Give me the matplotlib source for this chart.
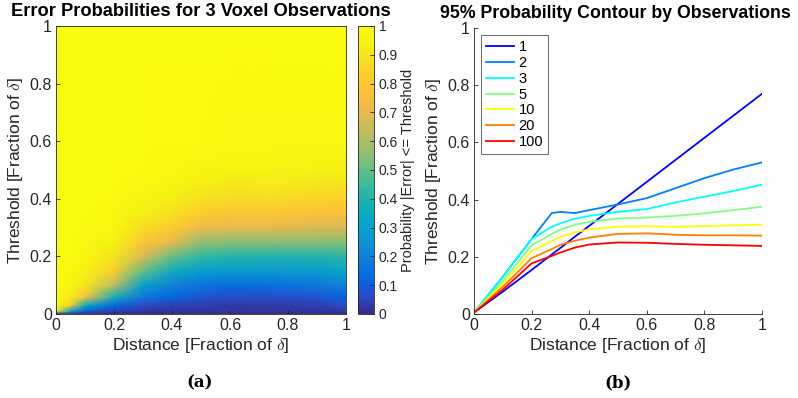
import numpy as np
import matplotlib
matplotlib.use("Agg")
import matplotlib.pyplot as plt
from matplotlib.colors import LinearSegmentedColormap

plt.rcParams['font.family'] = ['Liberation Sans', 'DejaVu Sans']
plt.rcParams['mathtext.fontset'] = 'cm'

# ---- panel (a): probability |error| <= threshold, 3 observations ----
dist_grid = [0, 0.05, 0.1, 0.2, 0.3, 0.4, 0.5, 0.6, 0.75, 0.9, 1.0]
thr_grid = [0, 0.01, 0.03, 0.06, 0.1, 0.15, 0.2, 0.25, 0.3, 0.35, 0.4, 0.45, 0.5, 0.6, 1.0]
prob_grid = [
    [0.00, 0.00, 0.00, 0.00, 0.00, 0.00, 0.00, 0.00, 0.00, 0.00, 0.00],
    [0.92, 0.30, 0.10, 0.04, 0.02, 0.02, 0.02, 0.02, 0.02, 0.02, 0.03],
    [1.00, 0.80, 0.35, 0.12, 0.06, 0.04, 0.04, 0.03, 0.03, 0.04, 0.06],
    [1.00, 0.92, 0.78, 0.38, 0.17, 0.12, 0.08, 0.07, 0.07, 0.08, 0.12],
    [1.00, 0.96, 0.90, 0.62, 0.30, 0.20, 0.16, 0.14, 0.15, 0.17, 0.20],
    [1.00, 0.98, 0.95, 0.82, 0.50, 0.36, 0.29, 0.27, 0.27, 0.28, 0.32],
    [1.00, 0.99, 0.97, 0.90, 0.68, 0.50, 0.43, 0.41, 0.40, 0.40, 0.42],
    [1.00, 1.00, 0.98, 0.94, 0.80, 0.70, 0.57, 0.55, 0.55, 0.55, 0.55],
    [1.00, 1.00, 0.99, 0.97, 0.88, 0.82, 0.72, 0.70, 0.70, 0.68, 0.67],
    [1.00, 1.00, 1.00, 0.98, 0.93, 0.89, 0.82, 0.80, 0.80, 0.78, 0.76],
    [1.00, 1.00, 1.00, 0.99, 0.96, 0.93, 0.89, 0.87, 0.87, 0.85, 0.84],
    [1.00, 1.00, 1.00, 1.00, 0.98, 0.96, 0.93, 0.91, 0.92, 0.90, 0.89],
    [1.00, 1.00, 1.00, 1.00, 0.99, 0.98, 0.96, 0.95, 0.95, 0.94, 0.93],
    [1.00, 1.00, 1.00, 1.00, 1.00, 0.99, 0.99, 0.98, 0.98, 0.97, 0.97],
    [1.00, 1.00, 1.00, 1.00, 1.00, 1.00, 1.00, 1.00, 1.00, 1.00, 1.00],
]

# ---- panel (b): 95% contour per number of observations ----
dist_pts = [0, 0.1, 0.2, 0.27, 0.3, 0.35, 0.4, 0.5, 0.6, 0.7, 0.8, 0.9, 1.0]
obs_labels = ['1', '2', '3', '5', '10', '20', '100']
contour_1 = [0.005, 0.078, 0.154, 0.208, 0.231, 0.270, 0.308, 0.385, 0.462, 0.539, 0.616, 0.693, 0.770]
contour_2 = [0.005, 0.130, 0.262, 0.353, 0.357, 0.353, 0.363, 0.383, 0.405, 0.440, 0.475, 0.505, 0.530]
contour_3 = [0.005, 0.130, 0.262, 0.305, 0.317, 0.333, 0.343, 0.357, 0.367, 0.390, 0.410, 0.430, 0.452]
contour_5 = [0.005, 0.115, 0.240, 0.280, 0.295, 0.312, 0.322, 0.334, 0.337, 0.343, 0.352, 0.363, 0.375]
contour_10 = [0.005, 0.105, 0.220, 0.255, 0.270, 0.285, 0.296, 0.305, 0.307, 0.305, 0.307, 0.310, 0.312]
contour_20 = [0.005, 0.095, 0.195, 0.227, 0.242, 0.256, 0.267, 0.280, 0.282, 0.277, 0.275, 0.275, 0.274]
contour_100 = [0.005, 0.085, 0.177, 0.203, 0.215, 0.232, 0.243, 0.250, 0.249, 0.245, 0.242, 0.240, 0.238]
contours = [contour_1, contour_2, contour_3, contour_5, contour_10, contour_20, contour_100]
line_colors = [(0, 0, 1), (0, 0.5, 1), (0, 1, 1), (0.5, 1, 0.5), (1, 1, 0), (1, 0.5, 0), (1, 0, 0)]

# parula-like colormap
parula = LinearSegmentedColormap.from_list('parula', [
    (0.2081, 0.1663, 0.5292), (0.1707, 0.2919, 0.7792), (0.0060, 0.4086, 0.8828),
    (0.0629, 0.4737, 0.8554), (0.0641, 0.5570, 0.8240), (0.0239, 0.6287, 0.8038),
    (0.0384, 0.6743, 0.7436), (0.1453, 0.7098, 0.6646), (0.3022, 0.7376, 0.5712),
    (0.4871, 0.7491, 0.4840), (0.6473, 0.7456, 0.4188), (0.7858, 0.7356, 0.3633),
    (0.9139, 0.7258, 0.3063), (0.9938, 0.7455, 0.2403), (0.9880, 0.8066, 0.1794),
    (0.9626, 0.8705, 0.1309), (0.9661, 0.9514, 0.0755), (0.9763, 0.9831, 0.0538)])

txt = '#262626'
fig = plt.figure(figsize=(7.98, 3.98), dpi=100)
ax1 = fig.add_axes([0.0702, 0.2111, 0.3634, 0.7236])
cax = fig.add_axes([0.4486, 0.2111, 0.0200, 0.7236])
ax2 = fig.add_axes([0.594, 0.2111, 0.3609, 0.7186])

mesh = ax1.pcolormesh(dist_grid, thr_grid, np.array(prob_grid), shading='gouraud',
                      cmap=parula, vmin=0, vmax=1)
ax1.set_xlim(0, 1)
ax1.set_ylim(0, 1)
ax1.set_title('Error Probabilities for 3 Voxel Observations', fontsize=13.2, fontweight='bold', pad=7)

cb = fig.colorbar(mesh, cax=cax)
cb.set_ticks(np.arange(0, 1.01, 0.1))
cb.set_ticklabels(['0', '0.1', '0.2', '0.3', '0.4', '0.5', '0.6', '0.7', '0.8', '0.9', '1'])
cb.ax.tick_params(labelsize=10, colors=txt, direction='in', length=3, width=0.6)
cb.outline.set_linewidth(0.6)
cb.outline.set_edgecolor(txt)
cb.set_label('Probability |Error| <= Threshold', fontsize=10.5, color=txt, labelpad=2)

for c, ys, lab in zip(line_colors, contours, obs_labels):
    ax2.plot(dist_pts, ys, color=c, lw=1.3, label=lab)
ax2.set_xlim(0, 1)
ax2.set_ylim(0, 1)
ax2.set_title('95% Probability Contour by Observations', fontsize=12.8, fontweight='bold',
              pad=7, x=0.49)
leg = ax2.legend(loc='upper left', fontsize=10.5, frameon=True, fancybox=False,
                 edgecolor=txt, handlelength=1.9, handletextpad=0.3, labelspacing=0.12,
                 borderpad=0.35, borderaxespad=0.5)
leg.get_frame().set_linewidth(0.6)
ax2.spines['top'].set_visible(False)
ax2.spines['right'].set_visible(False)

ticks = [0, 0.2, 0.4, 0.6, 0.8, 1]
tick_labels = ['0', '0.2', '0.4', '0.6', '0.8', '1']
for ax in (ax1, ax2):
    ax.set_xticks(ticks)
    ax.set_xticklabels(tick_labels)
    ax.set_yticks(ticks)
    ax.set_yticklabels(tick_labels)
    ax.tick_params(labelsize=11.5, colors=txt, direction='in', length=3, width=0.6, pad=3)
    ax.set_xlabel(r'Distance [Fraction of $\delta$]', fontsize=12.5, color=txt, labelpad=2)
    ax.set_ylabel(r'Threshold [Fraction of $\delta$]', fontsize=12.5, color=txt, labelpad=3)
    for s in ax.spines.values():
        s.set_linewidth(0.6)
        s.set_color(txt)

fig.text(0.2506, 0.027, '(a)', ha='center', fontsize=12, fontweight='bold', family='DejaVu Serif')
fig.text(0.774, 0.027, '(b)', ha='center', fontsize=12, fontweight='bold', family='DejaVu Serif')

fig.savefig('out.png', dpi=100)
